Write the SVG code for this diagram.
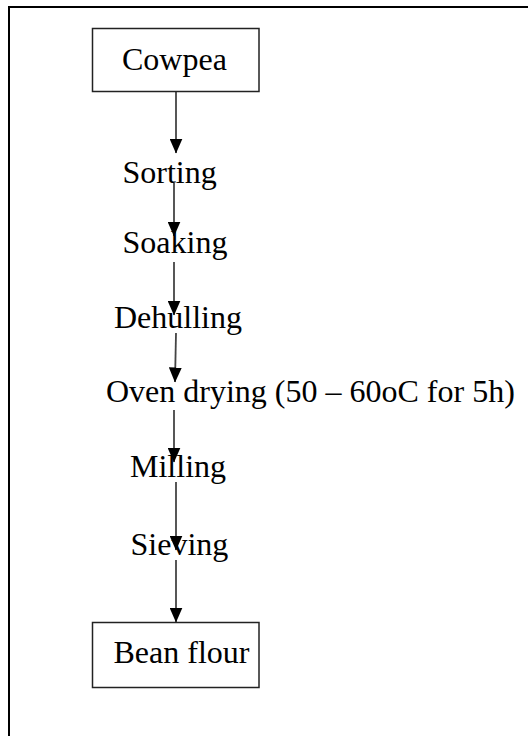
<svg xmlns="http://www.w3.org/2000/svg" width="528" height="736" viewBox="0 0 528 736">
  <style>
    .frame { fill: none; stroke: #000; stroke-width: 2; }
    .box { fill: #fff; stroke: #222; stroke-width: 1.5; }
    .label { font-family: "Liberation Serif", "Times New Roman", serif; font-size: 32px; fill: #000; }
    .flow { stroke: #444; stroke-width: 1.8; fill: none; marker-end: url(#head); }
  </style>
  <defs>
    <!-- filled arrowhead, tip on the path end -->
    <marker id="head" markerUnits="userSpaceOnUse" markerWidth="15" markerHeight="13" viewBox="0 0 15 13" refX="14.5" refY="6.5" orient="auto">
      <path d="M0,0 L15,6.5 L0,13 Z" fill="#000"/>
    </marker>
  </defs>

  <rect width="528" height="736" fill="#fff"/>
  <!-- page frame (open on the right and bottom) -->
  <path class="frame" d="M9,736 V7 H528"/>

  <g id="connectors">
    <path class="flow" d="M176,92 V153"/>
    <path class="flow" d="M174,183 V236"/>
    <path class="flow" d="M174,262 V315"/>
    <path class="flow" d="M176,333 L175,382"/>
    <path class="flow" d="M174,410 V462"/>
    <path class="flow" d="M176,482 V550"/>
    <path class="flow" d="M176,560 V622"/>
  </g>

  <g id="cowpea">
    <rect class="box" x="92.5" y="28.5" width="166.5" height="63"/>
    <text class="label" x="122" y="70">Cowpea</text>
  </g>
  <g id="sorting">
    <text class="label" x="122.5" y="183">Sorting</text>
  </g>
  <g id="soaking">
    <text class="label" x="122.5" y="253">Soaking</text>
  </g>
  <g id="dehulling">
    <text class="label" x="114" y="328">Dehulling</text>
  </g>
  <g id="oven-drying">
    <text class="label" x="106" y="402">Oven drying (50 – 60oC for 5h)</text>
  </g>
  <g id="milling">
    <text class="label" x="130" y="477">Milling</text>
  </g>
  <g id="sieving">
    <text class="label" x="130.5" y="555">Sieving</text>
  </g>
  <g id="bean-flour">
    <rect class="box" x="92.5" y="622.5" width="166.5" height="65"/>
    <text class="label" x="113.5" y="663">Bean flour</text>
  </g>
</svg>
